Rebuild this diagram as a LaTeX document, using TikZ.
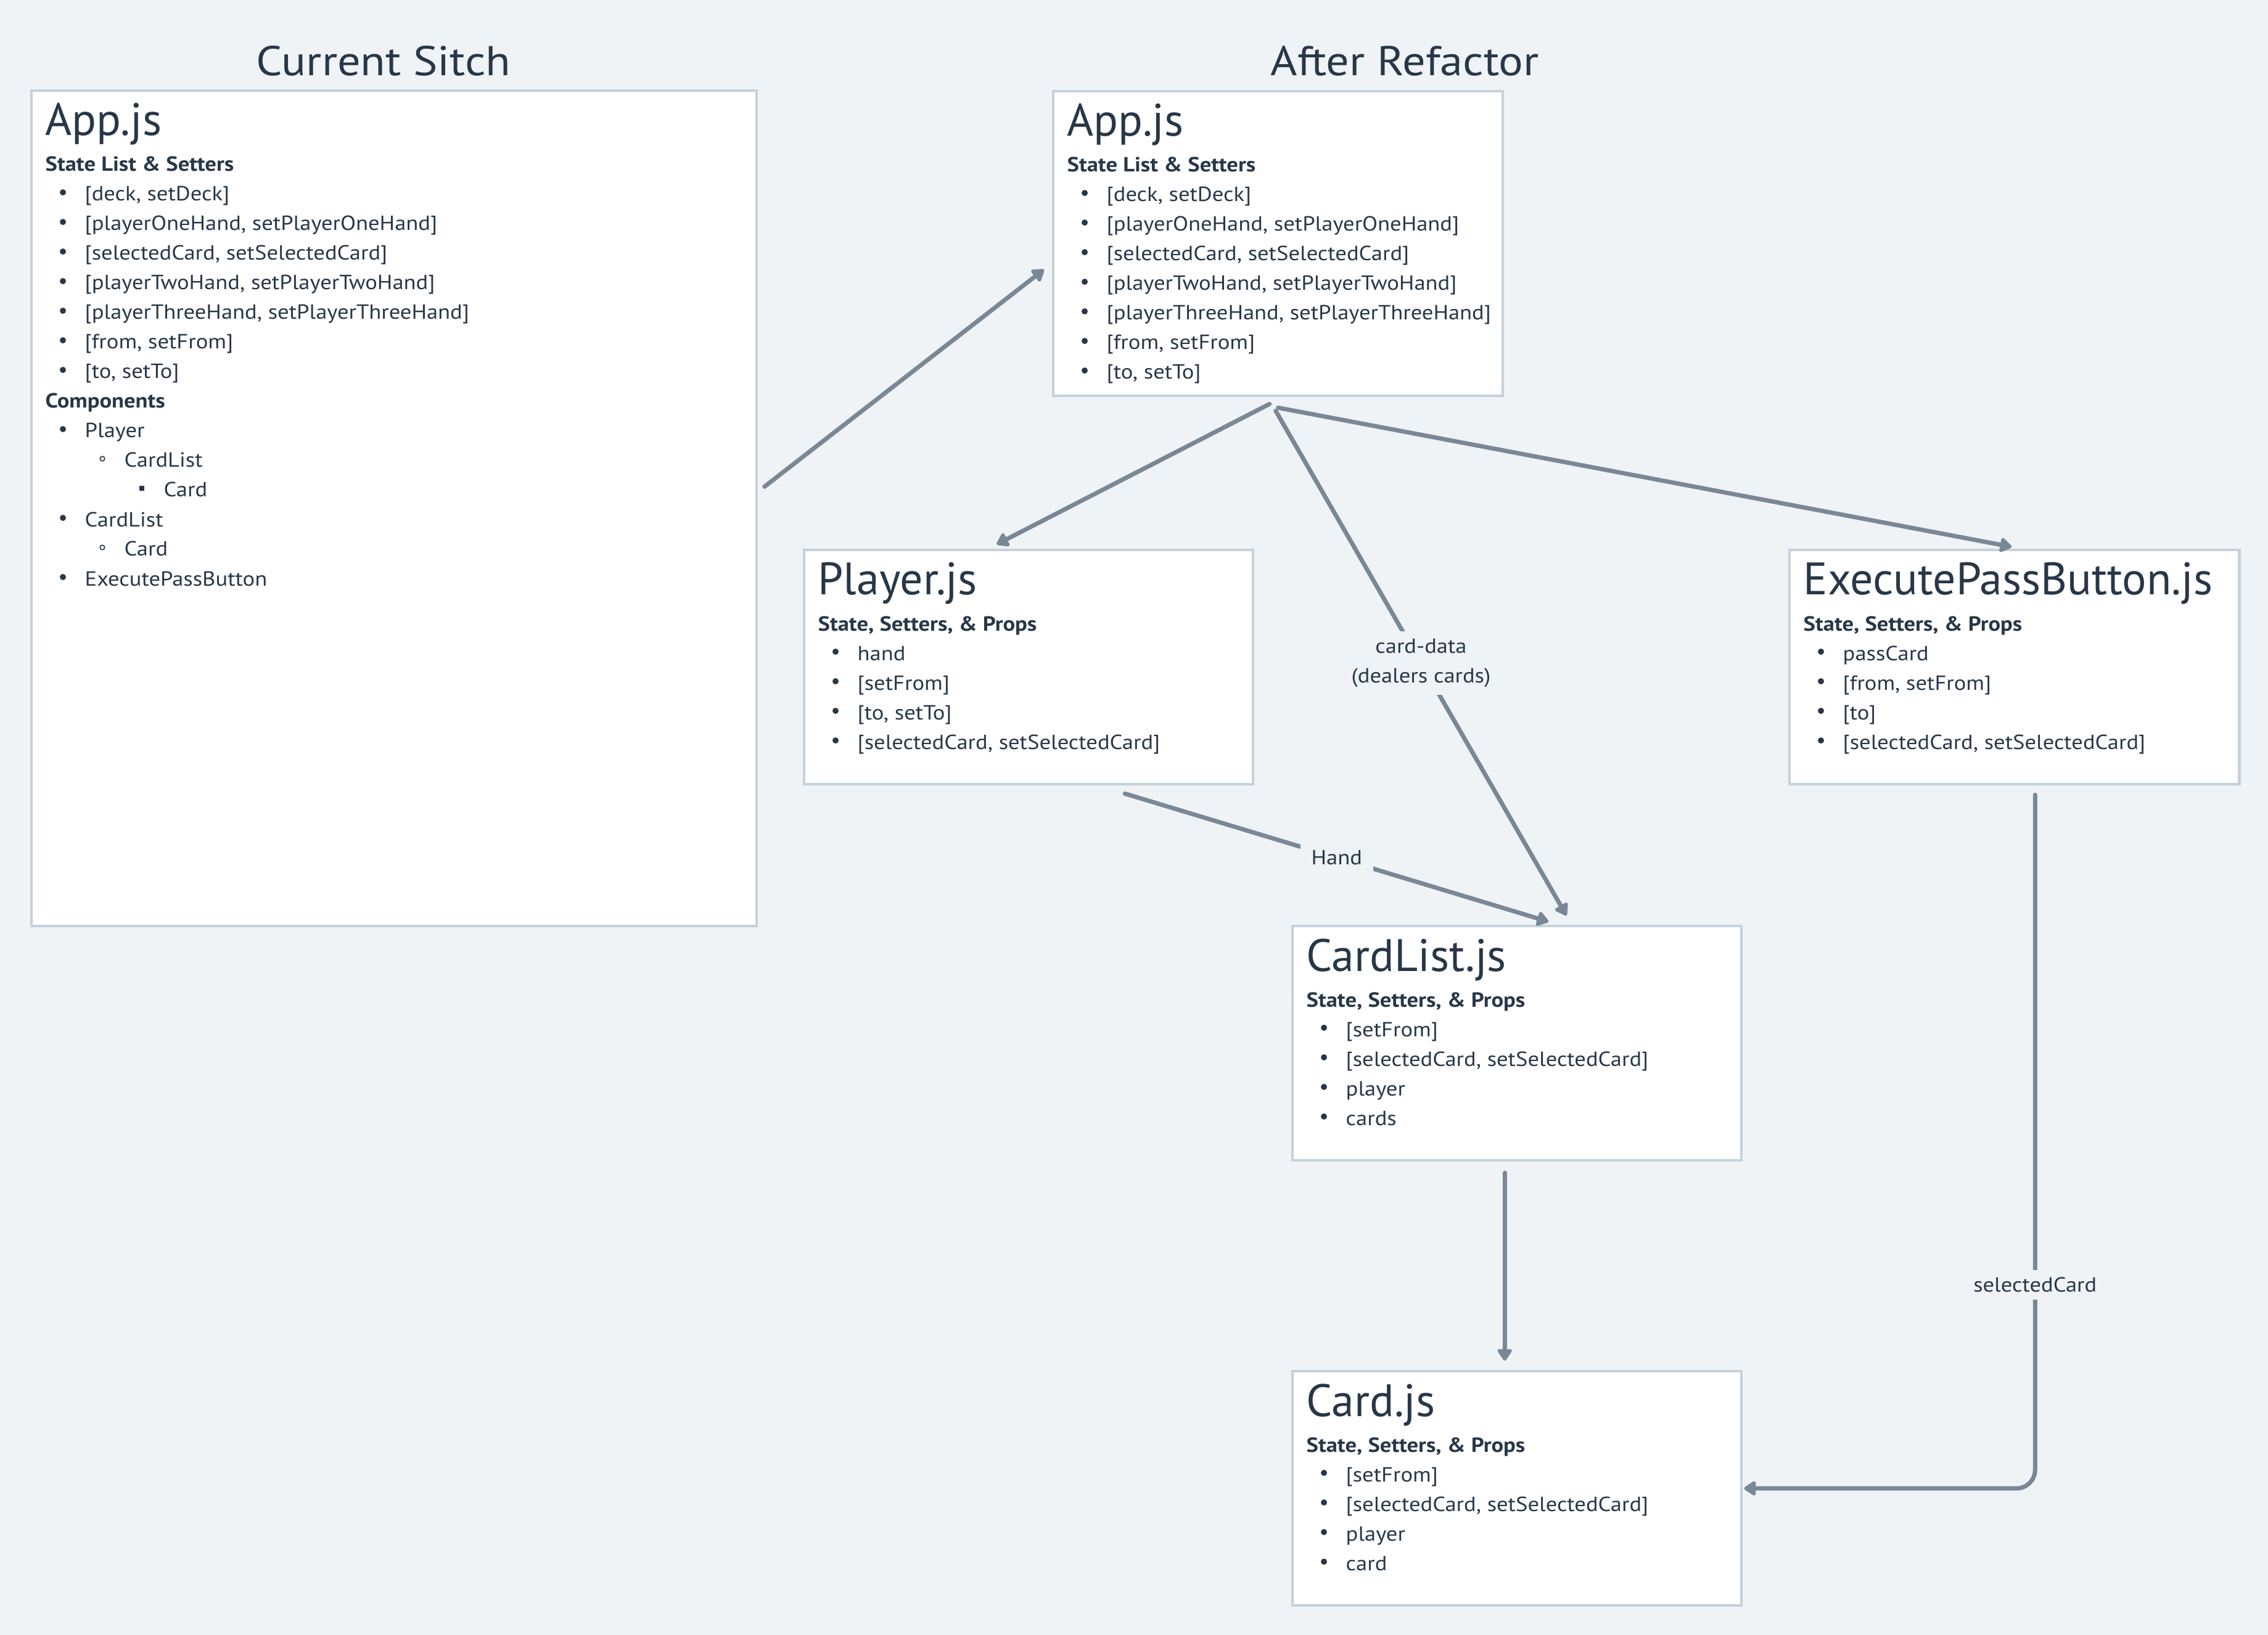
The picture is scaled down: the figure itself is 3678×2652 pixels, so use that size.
\documentclass[tikz,border=0pt]{standalone}
\usepackage{fontspec}
\setmainfont{PT Sans}
\newfontfamily\widesans[FakeStretch=1.1]{PT Sans}
\usetikzlibrary{arrows.meta,calc}
\definecolor{bg}{HTML}{EFF3F6}
\definecolor{ink}{HTML}{283747}
\definecolor{edge}{HTML}{C5D1DB}
\definecolor{wire}{HTML}{7A8896}
\tikzset{
  cbox/.style={draw=edge, line width=1.15pt, fill=white, anchor=north west, inner sep=0pt},
  itemtxt/.style={font=\widesans\fontsize{9.45}{11}\selectfont, text=ink, inner sep=0pt},
  boxtitle/.style={font=\fontsize{21}{25}\selectfont, text=ink, inner sep=0pt},
  boxhead/.style={font=\widesans\bfseries\fontsize{9.45}{11}\selectfont, text=ink, inner sep=0pt},
  pagetitle/.style={font=\widesans\fontsize{19.2}{23}\selectfont, text=ink, inner sep=0pt},
  conn/.style={draw=wire, line width=2pt, line cap=round},
  tip/.style={-{Triangle[length=6pt,width=7.5pt,round]}},
  lbl/.style={font=\widesans\fontsize{9.45}{13.66}\selectfont, text=ink, fill=bg, inner sep=3.4pt, align=center},
}
% title and first heading of a component box
\newcommand\boxhead[3]{%
  \node[boxtitle, anchor=base west] (#1-t) at ($(#1.north west)+(24,75)$) {#2};
  \node[boxhead, anchor=base west] (#1-h) at ($(#1.north west)+(24,133)$) {#3};}
% a sub-heading on list row #2
\newcommand\subhead[3]{%
  \node[boxhead, anchor=base west] (#1-s#2) at ($(#1.north west)+(24,{181+48*#2})$) {#3};}
% list entry: box, level, row, text
\newcommand\bitem[4]{%
  \node[itemtxt, anchor=base west] (#1-#3) at ($(#1.north west)+({24+64*#2},{181+48*#3})$) {#4};
  \ifcase#2\or
    \fill[ink] ($(#1.north west)+(53,{167+48*#3})$) circle[radius=0.05cm];
  \or
    \draw[ink, line width=0.45pt] ($(#1.north west)+(117,{167+48*#3})$) circle[radius=0.038cm];
  \or
    \fill[ink] ($(#1.north west)+(177,{163+48*#3})$) rectangle ++(8,8);
  \fi}
\begin{document}
\begin{tikzpicture}[x=0.01cm,y=-0.01cm]
\fill[bg] (0,0) rectangle (3678,2652);
\useasboundingbox (0,0) rectangle (3678,2652);

% section titles
\node[pagetitle, anchor=base] (t1) at (622,123) {Current Sitch};
\node[pagetitle, anchor=base] (t2) at (2278,123) {After Refactor};

% boxes
\node[cbox, minimum width=11.75cm, minimum height=13.54cm] (L) at (49,145) {};
\node[cbox, minimum width=7.29cm, minimum height=4.94cm] (A) at (1706,146) {};
\node[cbox, minimum width=7.28cm, minimum height=3.80cm] (P) at (1302,890) {};
\node[cbox, minimum width=7.29cm, minimum height=3.80cm] (E) at (2900,890) {};
\node[cbox, minimum width=7.28cm, minimum height=3.80cm] (CL) at (2094,1500) {};
\node[cbox, minimum width=7.28cm, minimum height=3.80cm] (C) at (2094,2222) {};

% current App.js
\boxhead{L}{App.js}{State List \& Setters}
\bitem{L}{1}{0}{[deck, setDeck]}
\bitem{L}{1}{1}{[playerOneHand, setPlayerOneHand]}
\bitem{L}{1}{2}{[selectedCard, setSelectedCard]}
\bitem{L}{1}{3}{[playerTwoHand, setPlayerTwoHand]}
\bitem{L}{1}{4}{[playerThreeHand, setPlayerThreeHand]}
\bitem{L}{1}{5}{[from, setFrom]}
\bitem{L}{1}{6}{[to, setTo]}
\subhead{L}{7}{Components}
\bitem{L}{1}{8}{Player}
\bitem{L}{2}{9}{CardList}
\bitem{L}{3}{10}{Card}
\bitem{L}{1}{11}{CardList}
\bitem{L}{2}{12}{Card}
\bitem{L}{1}{13}{ExecutePassButton}

% refactored App.js
\boxhead{A}{App.js}{State List \& Setters}
\bitem{A}{1}{0}{[deck, setDeck]}
\bitem{A}{1}{1}{[playerOneHand, setPlayerOneHand]}
\bitem{A}{1}{2}{[selectedCard, setSelectedCard]}
\bitem{A}{1}{3}{[playerTwoHand, setPlayerTwoHand]}
\bitem{A}{1}{4}{[playerThreeHand, setPlayerThreeHand]}
\bitem{A}{1}{5}{[from, setFrom]}
\bitem{A}{1}{6}{[to, setTo]}

% Player.js
\boxhead{P}{Player.js}{State, Setters, \& Props}
\bitem{P}{1}{0}{hand}
\bitem{P}{1}{1}{[setFrom]}
\bitem{P}{1}{2}{[to, setTo]}
\bitem{P}{1}{3}{[selectedCard, setSelectedCard]}

% ExecutePassButton.js
\boxhead{E}{ExecutePassButton.js}{State, Setters, \& Props}
\bitem{E}{1}{0}{passCard}
\bitem{E}{1}{1}{[from, setFrom]}
\bitem{E}{1}{2}{[to]}
\bitem{E}{1}{3}{[selectedCard, setSelectedCard]}

% CardList.js
\boxhead{CL}{CardList.js}{State, Setters, \& Props}
\bitem{CL}{1}{0}{[setFrom]}
\bitem{CL}{1}{1}{[selectedCard, setSelectedCard]}
\bitem{CL}{1}{2}{player}
\bitem{CL}{1}{3}{cards}

% Card.js
\boxhead{C}{Card.js}{State, Setters, \& Props}
\bitem{C}{1}{0}{[setFrom]}
\bitem{C}{1}{1}{[selectedCard, setSelectedCard]}
\bitem{C}{1}{2}{player}
\bitem{C}{1}{3}{card}

% connectors
\coordinate (l0) at ($(L.east)+(11,-35)$);
\coordinate (a0) at ($(A.west)+(-13,42)$);
\draw[conn,tip] (l0) -- (a0);

\coordinate (as1) at ($(A.south)+(-14,11)$);
\coordinate (as2) at ($(A.south)+(-4,22)$);
\coordinate (as3) at ($(A.south)+(0,17)$);
\coordinate (pn) at ($(P.north)+(-52,-7)$);
\coordinate (cln1) at ($(CL.north)+(80,-15)$);
\coordinate (cln2) at ($(CL.north)+(51,-5)$);
\coordinate (en) at ($(E.north)+(-4.5,-3)$);
\coordinate (ps) at ($(P.south)+(156,13)$);
\coordinate (cls) at ($(CL.south)+(-20,18)$);
\coordinate (cn) at ($(C.north)+(-20,-15)$);
\coordinate (es) at ($(E.south)+(33.5,15)$);
\coordinate (ce) at ($(C.east)+(2,0)$);

\draw[conn,tip] (as1) -- (pn);
\draw[conn,tip] (as3) -- (en);
\draw[conn,tip] (as2) -- node[lbl] (lcd) {card-data\\(dealers cards)} (cln1);
\draw[conn,tip] (ps) -- node[lbl, inner xsep=5pt] (lh) {Hand} (cln2);
\draw[conn,tip] (cls) -- (cn);
\draw[conn,tip,rounded corners=0.3cm] (es) |- (ce);
\node[lbl] (lsc) at ($(E.south)+(33.5,810)$) {selectedCard};
\end{tikzpicture}
\end{document}
